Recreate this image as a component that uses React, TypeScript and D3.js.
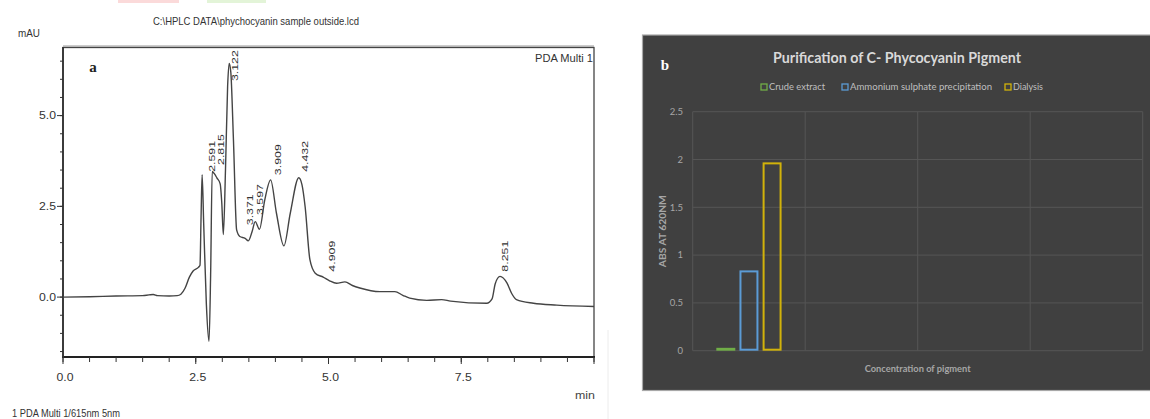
import React from "react";
import * as d3 from "d3";

// ---------- Panel a: HPLC chromatogram ----------
const timeMin = [0.0, 0.5, 1.0, 1.5, 1.62, 1.7, 1.78, 2.0, 2.15, 2.22, 2.3, 2.38, 2.45, 2.55, 2.58, 2.6, 2.62, 2.65, 2.7, 2.75, 2.78, 2.81, 2.85, 2.9, 2.96, 2.99, 3.02, 3.06, 3.1, 3.13, 3.16, 3.21, 3.27, 3.33, 3.43, 3.49, 3.56, 3.62, 3.7, 3.8, 3.91, 4.02, 4.16, 4.28, 4.44, 4.5, 4.56, 4.65, 4.75, 4.9, 5.02, 5.15, 5.31, 5.45, 5.59, 5.97, 6.25, 6.4, 6.53, 6.85, 7.13, 7.3, 7.98, 8.08, 8.14, 8.23, 8.36, 8.45, 8.54, 8.86, 9.3, 10.0];
const mAU = [0.0, 0.01, 0.03, 0.04, 0.06, 0.07, 0.04, 0.03, 0.04, 0.08, 0.25, 0.55, 0.72, 0.82, 0.88, 2.2, 3.37, 2.0, -0.2, -1.22, 0.6, 3.46, 3.4, 3.28, 3.12, 2.6, 1.72, 3.5, 5.8, 6.44, 6.2, 4.33, 1.85, 1.67, 1.62, 1.55, 1.8, 2.08, 1.87, 2.68, 3.23, 2.31, 1.41, 2.31, 3.29, 3.1, 2.49, 1.03, 0.66, 0.55, 0.45, 0.38, 0.42, 0.32, 0.25, 0.15, 0.15, 0.05, -0.03, -0.09, -0.07, -0.11, -0.17, -0.05, 0.37, 0.57, 0.39, 0.1, -0.07, -0.17, -0.22, -0.26];

const peakLabels = ["2.591", "2.815", "3.122", "3.371", "3.597", "3.909", "4.432", "4.909", "8.251"];
const peakLabelTime = [2.8, 2.97, 3.24, 3.52, 3.71, 4.05, 4.56, 5.06, 8.32];
const peakLabelMAU = [3.45, 3.64, 5.95, 1.98, 2.26, 3.36, 3.45, 0.7, 0.7];

const xTicksA = [0, 2.5, 5.0, 7.5, 10];
const xTickLabelsA = ["0.0", "2.5", "5.0", "7.5", ""];
const yTicksA = [0, 2.5, 5.0];
const yTickLabelsA = ["0.0", "2.5", "5.0"];

// ---------- Panel b: bar chart ----------
const categoriesB = ["c1", "c2", "c3", "c4"];
const seriesNames = ["Crude extract", "Ammonium sulphate precipitation", "Dialysis"];
const seriesColors = ["#70ad47", "#5b9bd5", "#d1b20a"];
const crudeExtract = [0.03];
const ammoniumSulphate = [0.84];
const dialysis = [1.97];
const yTicksB = [0, 0.5, 1, 1.5, 2, 2.5];
const yTickLabelsB = ["0", "0.5", "1", "1.5", "2", "2.5"];

export default function App() {
  // panel a scales
  const xA = d3.scaleLinear().domain([0, 10]).range([63, 594]);
  const yA = d3.scaleLinear().domain([-1.65, 6.89]).range([357, 47]);
  const pts: [number, number][] = timeMin.map((t, i) => [t, mAU[i]]);
  const line = d3
    .line<[number, number]>()
    .x((d) => xA(d[0]))
    .y((d) => yA(d[1]))
    .curve(d3.curveMonotoneX);
  const xMinor = d3.range(0, 10.001, 0.5);
  const yMinor = d3.range(-1.5, 6.51, 0.5);

  // panel b scales
  const x0 = d3.scaleBand<string>().domain(categoriesB).range([692.7, 1142.7]).padding(0);
  const bw = x0.bandwidth();
  const x1 = d3
    .scaleBand<string>()
    .domain(seriesNames)
    .range([bw * 0.21, bw * 0.79])
    .paddingInner(0.18);
  const yB = d3.scaleLinear().domain([0, 2.5]).range([350.7, 111.7]);
  const seriesValues = [crudeExtract, ammoniumSulphate, dialysis];
  const legendX = [764, 845, 1008];
  const legendLen = [56, 142, 30];

  const fA = "'Liberation Sans', Arial, sans-serif";
  const fB = "Lato, 'Open Sans', sans-serif";

  return (
    <div style={{ position: "absolute", left: 0, top: 0 }}>
      <svg width={1150} height={419} style={{ display: "block", background: "#fff" }}>
        {/* top crop artifacts */}
        <rect x={118} y={0} width={61} height={3} fill="#fbdada" />
        <rect x={207} y={0} width={59} height={3} fill="#e3f4d8" />

        {/* ---------- Panel a ---------- */}
        <text x={256} y={25} textAnchor="middle" fontFamily={fA} fontSize={11} fill="#333" textLength={206} lengthAdjust="spacingAndGlyphs">
          C:\HPLC DATA\phychocyanin sample outside.lcd
        </text>
        <text x={18} y={37} fontFamily={fA} fontSize={11} fill="#333" textLength={22} lengthAdjust="spacingAndGlyphs">mAU</text>

        {/* frame */}
        <line x1={63} x2={594} y1={46} y2={46} stroke="#999" strokeWidth={1} />
        <rect x={63} y={47.5} width={531} height={309.5} fill="none" stroke="#444" strokeWidth={1.3} />
        <line x1={62} x2={595} y1={357} y2={357} stroke="#222" strokeWidth={2} />
        <line x1={63} x2={63} y1={47} y2={357} stroke="#333" strokeWidth={1.8} />
        <line x1={608} x2={608} y1={330} y2={419} stroke="#ececec" strokeWidth={1} />

        {/* y ticks */}
        {yMinor.map((v) => (
          <line key={"ym" + v} x1={60} x2={63} y1={yA(v)} y2={yA(v)} stroke="#333" strokeWidth={1} />
        ))}
        {yTicksA.map((v, i) => (
          <g key={"yt" + v}>
            <line x1={57} x2={63} y1={yA(v)} y2={yA(v)} stroke="#333" strokeWidth={1} />
            <text x={56} y={yA(v)} dy="0.35em" textAnchor="end" fontFamily={fA} fontSize={11} fill="#333" textLength={17} lengthAdjust="spacingAndGlyphs">
              {yTickLabelsA[i]}
            </text>
          </g>
        ))}
        {/* x ticks */}
        {xMinor.map((t) => (
          <line key={"xm" + t} x1={xA(t)} x2={xA(t)} y1={357} y2={362} stroke="#333" strokeWidth={1} />
        ))}
        {xTicksA.map((t, i) => (
          <g key={"xt" + t}>
            <line x1={xA(t)} x2={xA(t)} y1={357} y2={364} stroke="#333" strokeWidth={1} />
            {xTickLabelsA[i] && (
              <text x={xA(t) + 2} y={381} textAnchor="middle" fontFamily={fA} fontSize={11} fill="#333" textLength={17} lengthAdjust="spacingAndGlyphs">
                {xTickLabelsA[i]}
              </text>
            )}
          </g>
        ))}
        <text x={575} y={399} fontFamily={fA} fontSize={11} fill="#444" textLength={20} lengthAdjust="spacingAndGlyphs">min</text>
        <text x={12} y={417} fontFamily={fA} fontSize={11} fill="#333" textLength={108} lengthAdjust="spacingAndGlyphs">
          1 PDA Multi 1/615nm 5nm
        </text>
        <text x={593} y={62} textAnchor="end" fontFamily={fA} fontSize={11} fill="#333" textLength={58} lengthAdjust="spacingAndGlyphs">PDA Multi 1</text>
        <text x={93} y={72} textAnchor="middle" fontFamily="'Liberation Serif', serif" fontWeight="bold" fontSize={15} fill="#222">a</text>

        {/* chromatogram */}
        <path d={line(pts) || ""} fill="none" stroke="#444" strokeWidth={1.4} strokeLinejoin="round" />
        {peakLabels.map((lab, i) => (
          <text
            key={lab}
            transform={`translate(${xA(peakLabelTime[i])},${yA(peakLabelMAU[i])}) rotate(-90)`}
            dominantBaseline="central"
            fontFamily={fA}
            fontSize={8.5}
            fill="#333"
            textLength={31}
            lengthAdjust="spacingAndGlyphs"
          >
            {lab}
          </text>
        ))}

        {/* ---------- Panel b ---------- */}
        <rect x={642.5} y={35} width={520} height={355.5} fill="#404040" stroke="#a8a8a8" strokeWidth={1.2} />
        {/* gridlines */}
        {yTicksB.map((v) => (
          <line key={"gh" + v} x1={692.7} x2={1142.7} y1={yB(v)} y2={yB(v)} stroke="#555" strokeWidth={1} />
        ))}
        {categoriesB.map((c) => (
          <line key={"gv" + c} x1={x0(c)!} x2={x0(c)!} y1={yB(2.5)} y2={yB(0)} stroke="#555" strokeWidth={1} />
        ))}
        <line x1={1142.7} x2={1142.7} y1={yB(2.5)} y2={yB(0)} stroke="#555" strokeWidth={1} />
        {yTicksB.map((v, i) => (
          <text key={"ytb" + v} x={683} y={yB(v)} dy="0.35em" textAnchor="end" fontFamily={fB} fontSize={9.5} fill="#a6a6a6">
            {yTickLabelsB[i]}
          </text>
        ))}
        {/* bars */}
        {categoriesB.map((c, ci) =>
          seriesNames.map((s, si) => {
            const v = seriesValues[si][ci];
            if (v === undefined) return null;
            const bx = x0(c)! + x1(s)!;
            const w = x1.bandwidth();
            const sw = 2;
            return (
              <rect
                key={c + s}
                x={bx + sw / 2}
                y={yB(v) + sw / 2}
                width={w - sw}
                height={Math.max(yB(0) - yB(v) - sw, 0.5)}
                fill="none"
                stroke={seriesColors[si]}
                strokeWidth={sw}
              />
            );
          })
        )}
        {/* title */}
        <text x={897} y={63} textAnchor="middle" fontFamily={fB} fontWeight="bold" fontSize={14.5} fill="#d9d9d9" textLength={248} lengthAdjust="spacingAndGlyphs">
          Purification of C- Phycocyanin Pigment
        </text>
        <text x={665} y={70} textAnchor="middle" fontFamily="'Liberation Serif', serif" fontWeight="bold" fontSize={15} fill="#fff">b</text>
        {/* legend */}
        {seriesNames.map((s, i) => (
          <g key={"lg" + s}>
            <rect x={legendX[i] - 3} y={84} width={6} height={6} fill="none" stroke={seriesColors[i]} strokeWidth={1.3} />
            <text x={legendX[i] + 5} y={87} dy="0.35em" fontFamily={fB} fontSize={9} fill="#bfbfbf" textLength={legendLen[i]} lengthAdjust="spacingAndGlyphs">
              {s}
            </text>
          </g>
        ))}
        {/* axis titles */}
        <text x={917.7} y={369} dy="0.35em" textAnchor="middle" fontFamily={fB} fontWeight="bold" fontSize={8.5} fill="#a6a6a6" textLength={106} lengthAdjust="spacingAndGlyphs">
          Concentration of pigment
        </text>
        <text transform={`translate(662.7,${(yB(0) + yB(2.5)) / 2}) rotate(-90)`} textAnchor="middle" dominantBaseline="central" fontFamily={fB} fontWeight="bold" fontSize={8.5} fill="#a6a6a6" textLength={72} lengthAdjust="spacingAndGlyphs">
          ABS AT 620NM
        </text>
      </svg>
    </div>
  );
}
